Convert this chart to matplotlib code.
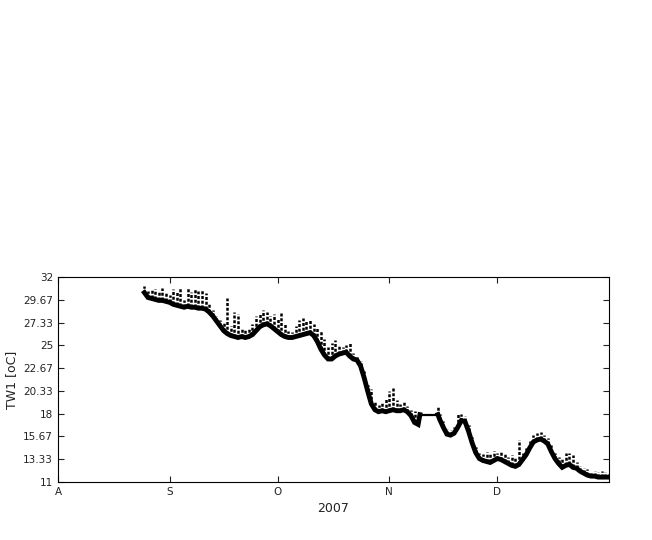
import matplotlib
matplotlib.use("Agg")
import matplotlib.pyplot as plt
import numpy as np

# day offsets from 1 Aug 2007
days = [24, 25, 26, 27, 28, 29, 30, 31, 32, 33, 34, 35, 36, 37, 38, 39, 40, 41,
        42, 43, 44, 45, 46, 47, 48, 49, 50, 51, 52, 53, 54, 55, 56, 57, 58, 59,
        60, 61, 62, 63, 64, 65, 66, 67, 68, 69, 70, 71, 72, 73, 74, 75, 76, 77,
        78, 79, 80, 81, 82, 83, 84, 85, 86, 87, 88, 89, 90, 91, 92, 93, 94, 95,
        96, 97, 98, 99, 100, 100.5, 105.5, 106, 107, 108, 109, 110, 111, 112,
        113, 114, 115, 116, 117, 118, 119, 120, 121, 122, 123, 124, 125, 126,
        127, 128, 129, 130, 131, 132, 133, 134, 135, 136, 137, 138, 139, 140,
        141, 142, 143, 144, 145, 146, 147, 148, 149, 150, 151, 152, 153]

# daily lower band (typical) temperature
temp_low = [30.4, 29.9, 29.8, 29.7, 29.6, 29.6, 29.5, 29.4, 29.2, 29.1, 29.0, 28.9,
            29.0, 28.9, 28.9, 28.8, 28.8, 28.7, 28.4, 28.0, 27.5, 27.0, 26.5, 26.2,
            26.0, 25.9, 25.8, 25.9, 25.8, 25.9, 26.1, 26.5, 26.9, 27.1, 27.2, 27.0,
            26.7, 26.4, 26.1, 25.9, 25.8, 25.8, 25.9, 26.0, 26.1, 26.2, 26.3, 26.0,
            25.4, 24.6, 24.0, 23.6, 23.6, 23.9, 24.1, 24.2, 24.3, 23.9, 23.6, 23.5,
            22.9, 21.7, 20.3, 19.0, 18.4, 18.2, 18.3, 18.2, 18.3, 18.4, 18.3, 18.3,
            18.4, 18.2, 17.8, 17.1, 16.9, 17.9, 17.9, 17.4, 16.6, 15.9, 15.8, 16.0,
            16.6, 17.3, 17.2, 16.2, 15.0, 14.0, 13.4, 13.2, 13.1, 13.0, 13.2, 13.4,
            13.3, 13.1, 12.9, 12.7, 12.6, 12.8, 13.3, 13.8, 14.5, 15.1, 15.3, 15.4,
            15.2, 14.9, 14.1, 13.4, 12.9, 12.5, 12.7, 12.8, 12.5, 12.4, 12.1, 11.9,
            11.7, 11.6, 11.6, 11.5, 11.5, 11.5, 11.5]

# daily maximum (spikes)
temp_high = [31.1, 30.6, 30.7, 30.8, 30.6, 30.9, 30.5, 30.2, 30.8, 30.6, 30.9, 29.6,
             31.0, 30.5, 30.8, 30.6, 30.7, 30.4, 29.2, 28.6, 28.0, 27.6, 27.3, 29.9,
             27.0, 28.4, 28.2, 26.8, 26.6, 26.8, 27.2, 28.0, 28.3, 28.6, 28.4, 28.0,
             28.2, 27.8, 28.3, 27.2, 26.5, 26.4, 27.0, 27.6, 27.8, 27.5, 27.7, 27.2,
             26.8, 26.5, 25.6, 24.8, 25.2, 25.5, 25.0, 24.8, 25.0, 25.3, 24.2, 23.9,
             23.4, 22.4, 20.9, 20.5, 19.3, 18.9, 19.2, 19.6, 20.3, 20.6, 19.4, 19.0,
             19.3, 18.8, 18.4, 18.3, 17.5, 17.9, 18.7, 18.0, 17.2, 16.4, 16.3, 16.6,
             18.0, 18.0, 17.8, 16.8, 15.6, 14.6, 14.0, 13.9, 14.1, 14.0, 14.2, 14.0,
             14.2, 13.9, 13.6, 13.8, 13.6, 15.3, 14.0, 14.5, 15.2, 15.8, 16.0, 16.1,
             15.8, 15.5, 14.8, 14.0, 13.6, 13.4, 14.0, 14.0, 13.8, 13.0, 12.6, 12.4,
             12.3, 12.0, 12.1, 12.0, 12.1, 12.0, 11.9]

month_ticks = [0, 31, 61, 92, 122]
month_labels = ["A", "S", "O", "N", "D"]
y_ticks = [11, 13.33, 15.67, 18, 20.33, 22.67, 25, 27.33, 29.67, 32]
y_labels = ["11", "13.33", "15.67", "18", "20.33", "22.67", "25", "27.33", "29.67", "32"]

plt.rcParams['font.family'] = ['DejaVu Sans']

fig = plt.figure(figsize=(6.52, 5.40), dpi=100)
ax = fig.add_axes([58/652, 58/540, 551/652, 205/540])

d = np.array(days)
lo = np.array(temp_low)
hi = np.array(temp_high)

# data gap (logger outage) is bridged by a thin straight line
gap = days.index(100.5)
ax.vlines(d, lo, hi, colors="black", linewidth=1.8, linestyles=(0, (1.2, 0.7)))
ax.plot(d[:gap + 1], lo[:gap + 1], color="black", linewidth=3.5, solid_joinstyle="miter")
ax.plot(d[gap:gap + 2], lo[gap:gap + 2], color="black", linewidth=1.6)
ax.plot(d[gap + 1:], lo[gap + 1:], color="black", linewidth=3.5, solid_joinstyle="miter")

ax.set_xlim(0, 153)
ax.set_ylim(11, 32)
ax.set_xticks(month_ticks)
ax.set_xticklabels(month_labels)
ax.set_yticks(y_ticks)
ax.set_yticklabels(y_labels)
ax.tick_params(direction="in", top=True, right=True, length=4, width=0.8,
               labelsize=7.5, colors="#222222", labelcolor="#222222")
for s in ax.spines.values():
    s.set_linewidth(0.8)
ax.set_xlabel("2007", fontsize=9, color="#222222", labelpad=4)
ax.set_ylabel("TW1 [oC]", fontsize=9, color="#222222", labelpad=4)

fig.savefig("out.png", dpi=100)
